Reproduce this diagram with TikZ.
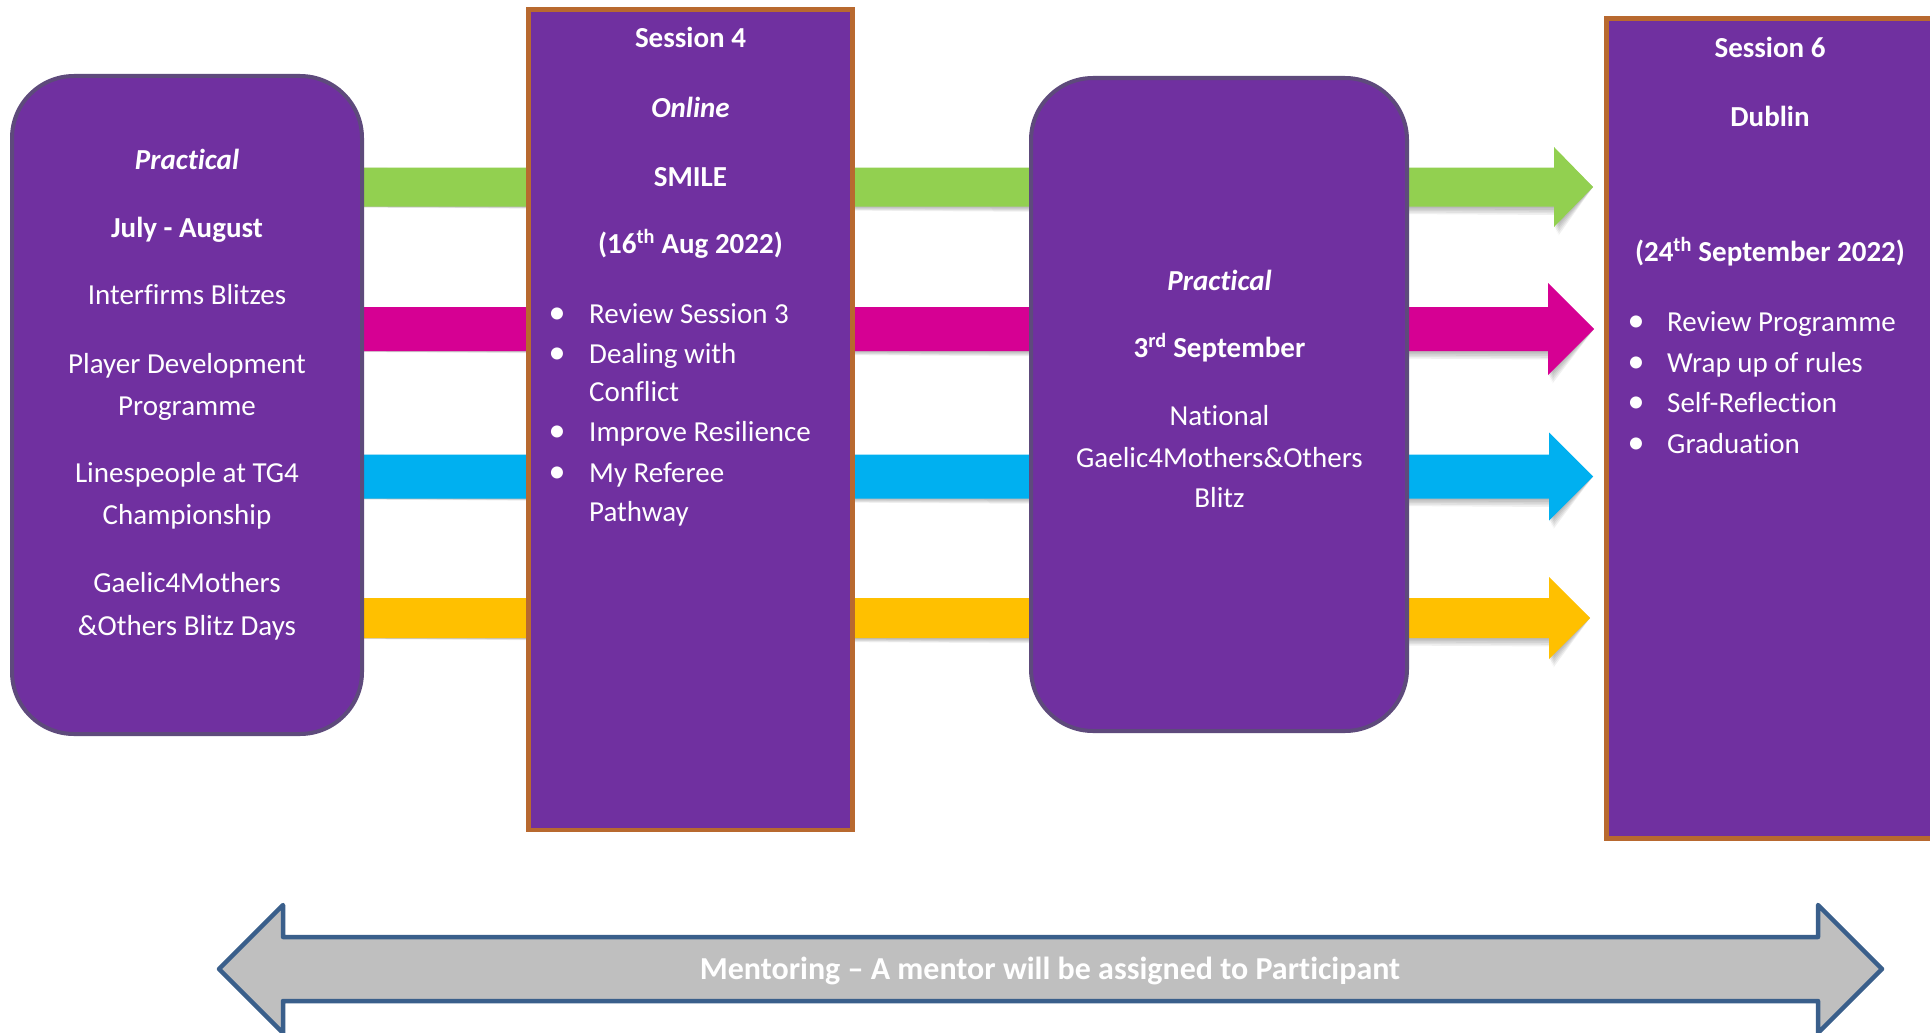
\documentclass[tikz,border=0pt]{standalone}
\usepackage{fontspec}
\setmainfont{Carlito}[Ligatures={TeX,NoCommon}]
\usetikzlibrary{calc}
\pgfdeclarelayer{bg}
\pgfsetlayers{bg,main}
\definecolor{boxpurple}{HTML}{7030A0}
\definecolor{boxedge}{HTML}{5E4A7C}
\definecolor{brownedge}{HTML}{B8692F}
\definecolor{agreen}{HTML}{92D050}
\definecolor{amagenta}{HTML}{D60093}
\definecolor{acyan}{HTML}{00B0F0}
\definecolor{ayellow}{HTML}{FFC000}
\definecolor{mentorfill}{HTML}{BFBFBF}
\definecolor{mentoredge}{HTML}{3A5F8B}
\newcommand\ctext[4]{\node[txt,anchor=base] (#1) at (#2,#3) {#4};}
\newcommand\bitem[5]{\node[txt,anchor=base,font=\fontsize{34}{34}\selectfont] (#1b) at (#2,#4) {•};
  \node[txt,anchor=base west] (#1) at (#3,#4) {#5};}
\newcommand\flowarrow[7]{% name, colour, centre y, shaft half, head half, head base x, tip x
  \coordinate (#1y) at (0,#3);
  \coordinate (#1s) at (b1.center |- #1y);
  \coordinate (#1t) at (#7,#3);
  \foreach \k in {1,...,5}{
    \fill[black,opacity=0.06,shift={(\k*0.9,\k*1.7)}] ($(#1s)+(0,-#4)$) -- (#6,#3-#4) -- (#6,#3-#5) -- (#1t) -- (#6,#3+#5) -- (#6,#3+#4) -- ($(#1s)+(0,#4)$) -- cycle;}
  \fill[#2] ($(#1s)+(0,-#4)$) -- (#6,#3-#4) -- (#6,#3-#5) -- (#1t) -- (#6,#3+#5) -- (#6,#3+#4) -- ($(#1s)+(0,#4)$) -- cycle;
}
\begin{document}
\begin{tikzpicture}[x=1pt,y=-1pt,
  txt/.style={text=white,inner sep=0pt,font=\fontsize{29}{35}\selectfont},
  roundbox/.style={draw=boxedge,line width=4pt,fill=boxpurple,rounded corners=62pt,inner sep=0pt},
  sessbox/.style={draw=brownedge,line width=4.5pt,fill=boxpurple,inner sep=0pt},
  mentorarrow/.style={draw=mentoredge,fill=mentorfill,line width=4.5pt,line join=round}]
\useasboundingbox (0,0) rectangle (1930,1033);
\begin{pgfonlayer}{bg}
\fill[white] (0,0) rectangle (1930,1033);
\end{pgfonlayer}
\clip (0,0) rectangle (1930,1033);

% boxes
\node[roundbox,minimum width=350pt,minimum height=658pt] (b1) at (187,405) {};
\node[sessbox,minimum width=324pt,minimum height=820.5pt] (b2) at (690.5,419.75) {};
\node[roundbox,minimum width=376pt,minimum height=653pt] (b3) at (1219,404.5) {};
\node[sessbox,minimum width=338.5pt,minimum height=820pt] (b4) at (1775.75,428.5) {};

% coloured arrows (behind the boxes)
\begin{pgfonlayer}{bg}
\flowarrow{ag}{agreen}{187}{19.5}{40}{1554}{1593}
\flowarrow{am}{amagenta}{329}{22}{46}{1548}{1594}
\flowarrow{ac}{acyan}{476.5}{22}{44}{1549}{1593}
\flowarrow{ay}{ayellow}{618}{20}{41}{1549}{1590}
\end{pgfonlayer}

% box 1 text
\ctext{p1}{187}{169}{\bfseries\itshape Practical}
\ctext{p2}{187}{237}{\bfseries July - August}
\ctext{p3}{187}{304}{Interfirms Blitzes}
\ctext{p4}{187}{373}{Player Development}
\ctext{p5}{187}{415}{Programme}
\ctext{p6}{187}{482}{Linespeople at TG4}
\ctext{p7}{187}{524}{Championship}
\ctext{p8}{187}{592}{Gaelic4Mothers}
\ctext{p9}{187}{635}{\&Others Blitz Days}

% box 2 text
\ctext{s1}{690.5}{48}{\bfseries Session 4}
\ctext{s2}{690.5}{117}{\bfseries\itshape Online}
\ctext{s3}{690.5}{186}{\bfseries SMILE}
\ctext{s4}{690.5}{253}{\bfseries (16\textsuperscript{th} Aug 2022)}
\bitem{sa}{557}{589}{323}{Review Session 3}
\bitem{sb}{557}{589}{363}{Dealing with}
\node[txt,anchor=base west] (sb2) at (589,401) {Conflict};
\bitem{sc}{557}{589}{441}{Improve Resilience}
\bitem{sd}{557}{589}{482}{My Referee}
\node[txt,anchor=base west] (sd2) at (589,521) {Pathway};

% box 3 text
\ctext{q1}{1219.5}{290}{\bfseries\itshape Practical}
\ctext{q2}{1219.5}{357}{\bfseries 3\textsuperscript{rd} September}
\ctext{q3}{1219.5}{425}{National}
\ctext{q4}{1219.5}{467}{Gaelic4Mothers\&Others}
\ctext{q5}{1219.5}{507}{Blitz}

% box 4 text
\ctext{d1}{1770}{58}{\bfseries Session 6}
\ctext{d2}{1770}{126}{\bfseries Dublin}
\ctext{d3}{1770}{261}{\bfseries (24\textsuperscript{th} September 2022)}
\bitem{da}{1636}{1667}{331}{Review Programme}
\bitem{db}{1636}{1667}{372}{Wrap up of rules}
\bitem{dc}{1636}{1667}{412}{Self-Reflection}
\bitem{dd}{1636}{1667}{453}{Graduation}

% mentoring double arrow
\draw[mentorarrow] (219,969) -- (283,905) -- (283,937) -- (1818,937) -- (1818,905) -- (1882,969)
  -- (1818,1033) -- (1818,1001) -- (283,1001) -- (283,1033) -- cycle;
\node[txt,anchor=base,font=\bfseries\fontsize{32}{36}\selectfont] (ment) at (1050,979)
  {Mentoring – A mentor will be assigned to Participant};
\end{tikzpicture}
\end{document}
